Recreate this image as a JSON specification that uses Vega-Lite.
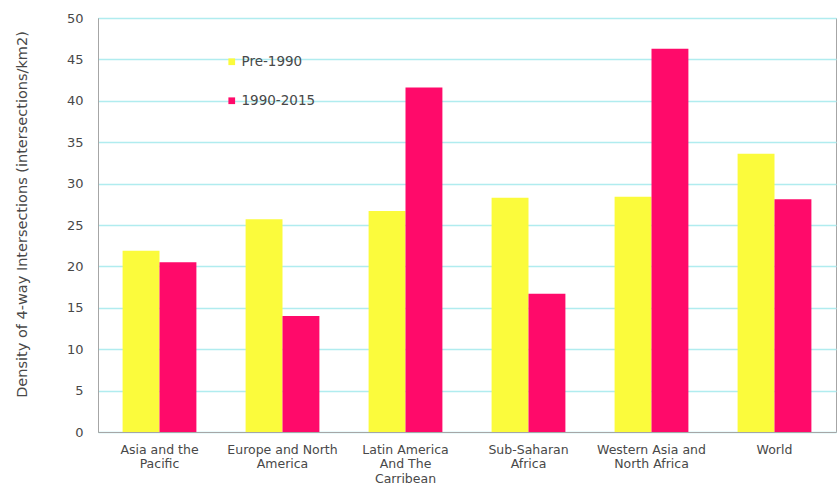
{
  "$schema": "https://vega.github.io/schema/vega-lite/v6.json",
  "autosize": {"type": "none"},
  "width": 738,
  "height": 414,
  "padding": {"left": 98, "top": 18, "right": 2, "bottom": 61},
  "background": "#ffffff",
  "config": {
    "font": "DejaVu Sans",
    "view": {"stroke": "#a6a6a6", "strokeWidth": 1}
  },
  "data": {
    "values": [
      {"region": "Asia and the Pacific", "period": "Pre-1990", "density": 21.9},
      {"region": "Asia and the Pacific", "period": "1990-2015", "density": 20.5},
      {"region": "Europe and North America", "period": "Pre-1990", "density": 25.7},
      {"region": "Europe and North America", "period": "1990-2015", "density": 14.0},
      {"region": "Latin America And The Carribean", "period": "Pre-1990", "density": 26.7},
      {"region": "Latin America And The Carribean", "period": "1990-2015", "density": 41.6},
      {"region": "Sub-Saharan Africa", "period": "Pre-1990", "density": 28.3},
      {"region": "Sub-Saharan Africa", "period": "1990-2015", "density": 16.7},
      {"region": "Western Asia and North Africa", "period": "Pre-1990", "density": 28.4},
      {"region": "Western Asia and North Africa", "period": "1990-2015", "density": 46.3},
      {"region": "World", "period": "Pre-1990", "density": 33.6},
      {"region": "World", "period": "1990-2015", "density": 28.1}
    ]
  },
  "mark": {"type": "bar"},
  "encoding": {
    "x": {
      "field": "region",
      "type": "nominal",
      "sort": null,
      "scale": {"paddingInner": 0.4, "paddingOuter": 0.2},
      "axis": {
        "title": null,
        "labelAngle": 0,
        "labelFontSize": 12.5,
        "labelColor": "#484848",
        "labelPadding": 11,
        "labelLineHeight": 14.5,
        "labelBaseline": "top",
        "labelLimit": 200,
        "ticks": false,
        "domainColor": "#a6a6a6",
        "labelExpr": "datum.value == 'Asia and the Pacific' ? ['Asia and the', 'Pacific'] : datum.value == 'Europe and North America' ? ['Europe and North', 'America'] : datum.value == 'Latin America And The Carribean' ? ['Latin America', 'And The', 'Carribean'] : datum.value == 'Sub-Saharan Africa' ? ['Sub-Saharan', 'Africa'] : datum.value == 'Western Asia and North Africa' ? ['Western Asia and', 'North Africa'] : datum.value"
      }
    },
    "xOffset": {"field": "period", "type": "nominal", "sort": ["Pre-1990", "1990-2015"]},
    "y": {
      "field": "density",
      "type": "quantitative",
      "scale": {"domain": [0, 50], "nice": false},
      "axis": {
        "title": "Density of 4-way Intersections (intersections/km2)",
        "titleFontSize": 14.5,
        "titleFontWeight": "normal",
        "titleColor": "#484848",
        "titlePadding": 37,
        "titleY": 196,
        "values": [0, 5, 10, 15, 20, 25, 30, 35, 40, 45, 50],
        "labelOverlap": false,
        "labelFontSize": 13,
        "labelColor": "#484848",
        "labelPadding": 15,
        "ticks": false,
        "domainColor": "#a6a6a6",
        "gridColor": "#b0ecef",
        "gridWidth": 1.5
      }
    },
    "color": {
      "field": "period",
      "type": "nominal",
      "sort": ["Pre-1990", "1990-2015"],
      "scale": {"domain": ["Pre-1990", "1990-2015"], "range": ["#fbfb3c", "#ff0a6a"]},
      "legend": {
        "title": null,
        "orient": "none",
        "legendX": 127,
        "legendY": 37,
        "symbolType": "square",
        "symbolSize": 45,
        "labelFontSize": 13.5,
        "labelColor": "#484848",
        "rowPadding": 24,
        "labelOffset": 3
      }
    }
  }
}
